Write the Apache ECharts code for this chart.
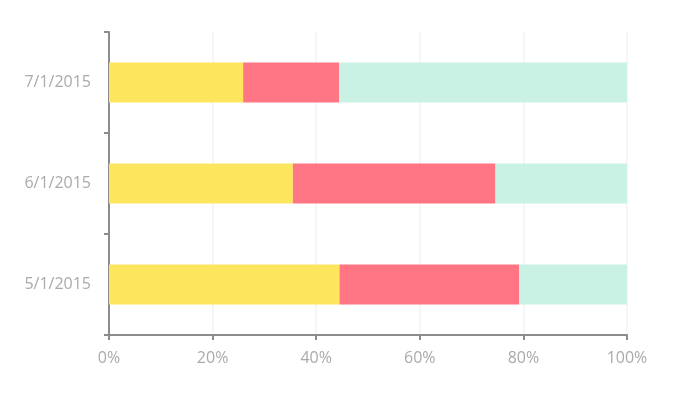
<!DOCTYPE html>
<html>
<head>
<meta charset="utf-8">
<script src="https://cdn.jsdelivr.net/npm/echarts@6/dist/echarts.min.js"></script>
<style>html,body{margin:0;padding:0;background:#fff;}#c{width:680px;height:393px;}</style>
</head>
<body>
<div id="c"></div>
<script>
var categories = ['5/1/2015', '6/1/2015', '7/1/2015'];
var seriesA = [44.5, 35.5, 25.9];
var seriesB = [34.7, 39.1, 18.5];
var seriesC = [20.8, 25.4, 55.6];
var xTicks = [0, 20, 40, 60, 80, 100];

var colors = ['#fee55e', '#ff7584', '#c9f1e4'];
var chart = echarts.init(document.getElementById('c'));
var font = 'Open Sans';
chart.setOption({
  animation: false,
  grid: {left: 109, right: 53, top: 32, bottom: 58, containLabel: false},
  xAxis: {
    type: 'value', min: xTicks[0], max: xTicks[xTicks.length - 1], interval: 20,
    axisLine: {show: true, lineStyle: {color: '#8c8c8c', width: 2}},
    axisTick: {show: true, length: 5, lineStyle: {color: '#8c8c8c', width: 2}},
    axisLabel: {color: '#aaaaaa', fontSize: 16, fontFamily: font, margin: 15, formatter: '{value}%'},
    splitLine: {show: true, lineStyle: {color: '#f6f6f6', width: 2}}
  },
  yAxis: {
    type: 'category', data: categories,
    axisLine: {show: true, lineStyle: {color: '#8c8c8c', width: 2}},
    axisTick: {show: true, length: 5, lineStyle: {color: '#8c8c8c', width: 2}},
    axisLabel: {color: '#aaaaaa', fontSize: 16, fontFamily: font, margin: 18},
    splitLine: {show: false}
  },
  series: [
    {type: 'bar', stack: 's', data: seriesA, barWidth: 40, itemStyle: {color: colors[0]}},
    {type: 'bar', stack: 's', data: seriesB, barWidth: 40, itemStyle: {color: colors[1]}},
    {type: 'bar', stack: 's', data: seriesC, barWidth: 40, itemStyle: {color: colors[2]}}
  ]
});
</script>
</body>
</html>
